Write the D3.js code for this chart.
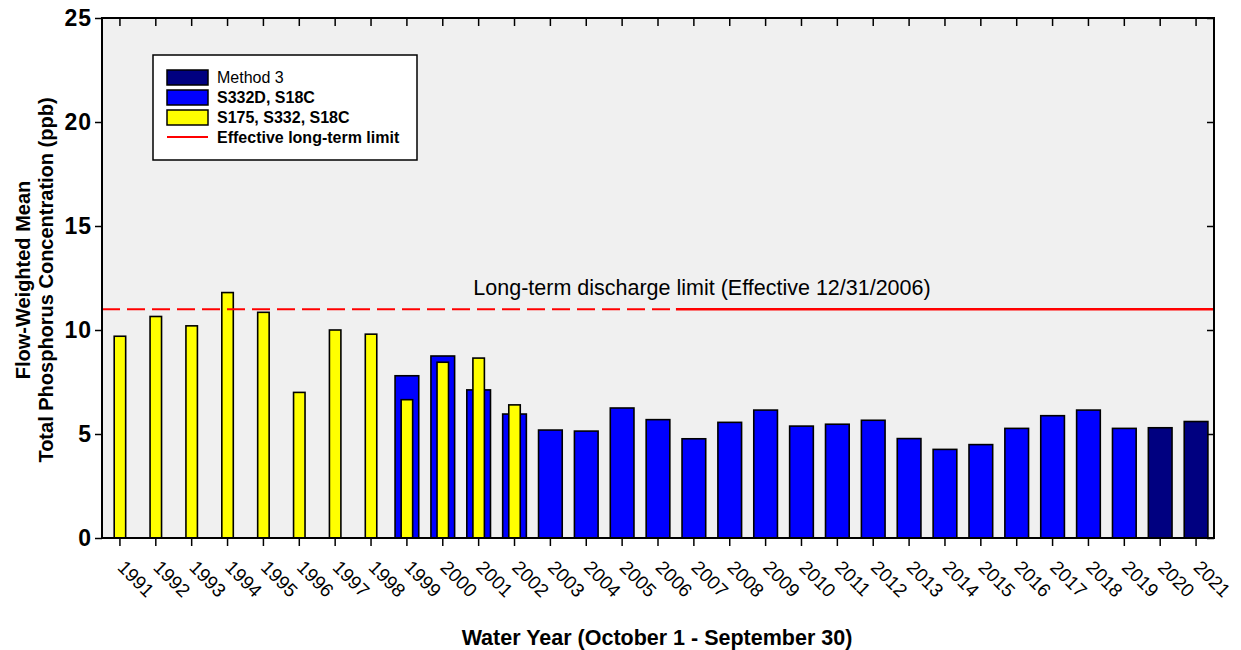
<!DOCTYPE html>
<html lang="en">

<head>
    <meta charset="UTF-8">
    <title>Flow-Weighted Mean TP Concentration</title>
    <script src="https://cdn.jsdelivr.net/npm/d3@7"></script>
    <style>
        body { margin: 0; background: #fff; }
        text { font-family: 'Liberation Sans', Arial, sans-serif; }
    </style>
</head>

<body>
    <script>
        // data
        const years = d3.range(1991, 2022).map(String);

        const s175Years = ['1991', '1992', '1993', '1994', '1995', '1996', '1997', '1998', '1999', '2000', '2001', '2002'];
        const s175Values = [9.7, 10.65, 10.2, 11.8, 10.85, 7.0, 10.0, 9.8, 6.65, 8.45, 8.65, 6.4];

        const s332dYears = ['1999', '2000', '2001', '2002', '2003', '2004', '2005', '2006', '2007', '2008', '2009',
            '2010', '2011', '2012', '2013', '2014', '2015', '2016', '2017', '2018', '2019'];
        const s332dValues = [7.8, 8.75, 7.12, 5.96, 5.19, 5.14, 6.25, 5.69, 4.77, 5.56, 6.15,
            5.38, 5.47, 5.66, 4.78, 4.26, 4.49, 5.27, 5.88, 6.15, 5.27];

        const method3Years = ['2020', '2021'];
        const method3Values = [5.3, 5.6];

        const yTicks = [0, 5, 10, 15, 20, 25];
        const limitValue = 11;
        const limitStartYear = '2007';

        const legendItems = ['Method 3', 'S332D, S18C', 'S175, S332, S18C', 'Effective long-term limit'];
        const colors = {
            'Method 3': '#000080',
            'S332D, S18C': '#0000ff',
            'S175, S332, S18C': '#ffff00',
            'Effective long-term limit': '#ff0000'
        };

        const W = 1241, H = 650;
        const plot = { left: 102, right: 1214, top: 18, bottom: 538 };

        const svg = d3.select('body').append('svg')
            .attr('width', W)
            .attr('height', H);

        const xScale = d3.scaleBand()
            .domain(years)
            .range([plot.left, plot.right]);

        const yScale = d3.scaleLinear()
            .domain([0, 25])
            .range([plot.bottom, plot.top]);

        // plot background
        svg.append('rect')
            .attr('x', plot.left)
            .attr('y', plot.top)
            .attr('width', plot.right - plot.left)
            .attr('height', plot.bottom - plot.top)
            .attr('fill', '#f0f0f0');

        const wide = xScale.bandwidth() * 0.66;
        const narrow = xScale.bandwidth() * 0.32;

        function drawBars(yrs, vals, color, w) {
            svg.append('g')
                .selectAll('rect')
                .data(yrs.map((y, i) => ({ year: y, value: vals[i] })))
                .enter()
                .append('rect')
                .attr('x', d => xScale(d.year) + (xScale.bandwidth() - w) / 2)
                .attr('y', d => yScale(d.value))
                .attr('width', w)
                .attr('height', d => yScale(0) - yScale(d.value))
                .attr('fill', color)
                .attr('stroke', '#000')
                .attr('stroke-width', 1.6);
        }

        drawBars(s332dYears, s332dValues, colors['S332D, S18C'], wide);
        drawBars(method3Years, method3Values, colors['Method 3'], wide);
        drawBars(s175Years, s175Values, colors['S175, S332, S18C'], narrow);

        // long-term limit: dashed before it took effect, solid after
        const xStart = xScale(limitStartYear);
        svg.append('line')
            .attr('x1', plot.left).attr('x2', xStart)
            .attr('y1', yScale(limitValue)).attr('y2', yScale(limitValue))
            .attr('stroke', '#ff0000')
            .attr('stroke-width', 2)
            .attr('stroke-dasharray', '18,7');
        svg.append('line')
            .attr('x1', xStart).attr('x2', plot.right)
            .attr('y1', yScale(limitValue)).attr('y2', yScale(limitValue))
            .attr('stroke', '#ff0000')
            .attr('stroke-width', 2.5);

        svg.append('text')
            .attr('x', 702)
            .attr('y', yScale(limitValue) - 14)
            .attr('text-anchor', 'middle')
            .style('font-size', '21.5px')
            .text('Long-term discharge limit (Effective 12/31/2006)');

        // axes
        const xAxis = svg.append('g')
            .attr('transform', `translate(0, ${plot.bottom})`)
            .call(d3.axisBottom(xScale).tickSize(8).tickSizeOuter(0));
        xAxis.select('.domain').remove();
        xAxis.selectAll('line').attr('stroke-width', 1.5);
        xAxis.selectAll('text')
            .attr('text-anchor', 'start')
            .attr('transform', 'translate(6, 21) rotate(45)')
            .attr('dy', '0.71em')
            .attr('x', 0)
            .attr('y', 0)
            .style('font-size', '19px')
            .attr('fill', '#000');

        const xTop = svg.append('g')
            .attr('transform', `translate(0, ${plot.top})`)
            .call(d3.axisTop(xScale).tickSize(-8).tickSizeOuter(0).tickFormat(''));
        xTop.select('.domain').remove();
        xTop.selectAll('line').attr('stroke-width', 1.5);

        const yAxis = svg.append('g')
            .attr('transform', `translate(${plot.left}, 0)`)
            .call(d3.axisLeft(yScale).tickValues(yTicks).tickSize(7).tickSizeOuter(0).tickPadding(3));
        yAxis.select('.domain').remove();
        yAxis.selectAll('line').attr('stroke-width', 1.5);
        yAxis.selectAll('text')
            .style('font-size', '23px')
            .style('font-weight', 'bold')
            .style('letter-spacing', '1px')
            .attr('fill', '#000');

        const yRight = svg.append('g')
            .attr('transform', `translate(${plot.right}, 0)`)
            .call(d3.axisRight(yScale).tickValues(yTicks).tickSize(-7).tickSizeOuter(0).tickFormat(''));
        yRight.select('.domain').remove();
        yRight.selectAll('line').attr('stroke-width', 1.5);

        // frame
        svg.append('rect')
            .attr('x', plot.left)
            .attr('y', plot.top)
            .attr('width', plot.right - plot.left)
            .attr('height', plot.bottom - plot.top)
            .attr('fill', 'none')
            .attr('stroke', '#000')
            .attr('stroke-width', 2);

        // axis titles
        svg.append('text')
            .attr('x', 657)
            .attr('y', 645)
            .attr('text-anchor', 'middle')
            .style('font-size', '21.5px')
            .style('font-weight', 'bold')
            .text('Water Year (October 1 - September 30)');

        svg.append('text')
            .attr('transform', 'translate(30, 280) rotate(-90)')
            .attr('text-anchor', 'middle')
            .style('font-size', '20px')
            .style('font-weight', 'bold')
            .text('Flow-Weighted Mean');

        svg.append('text')
            .attr('transform', 'translate(53, 280) rotate(-90)')
            .attr('text-anchor', 'middle')
            .style('font-size', '20px')
            .style('font-weight', 'bold')
            .text('Total Phosphorus Concentration (ppb)');

        // legend
        const legendContainer = svg.append('g')
            .attr('transform', 'translate(153, 55)');

        legendContainer.append('rect')
            .attr('width', 264)
            .attr('height', 105)
            .attr('fill', '#fff')
            .attr('stroke', '#000')
            .attr('stroke-width', 1.5);

        const legend = legendContainer.selectAll('.legend-item')
            .data(legendItems)
            .enter().append('g')
            .attr('class', 'legend-item')
            .attr('transform', (d, i) => `translate(14, ${15 + i * 20})`);

        legend.filter((d, i) => i < 3).append('rect')
            .attr('width', 41)
            .attr('height', 15)
            .attr('fill', d => colors[d])
            .attr('stroke', '#000')
            .attr('stroke-width', 1.5);

        legend.filter((d, i) => i === 3).append('line')
            .attr('x1', 0).attr('x2', 41)
            .attr('y1', 7).attr('y2', 7)
            .attr('stroke', d => colors[d])
            .attr('stroke-width', 2);

        legend.append('text')
            .attr('x', 50)
            .attr('y', 13)
            .style('font-size', '16px')
            .style('font-weight', (d, i) => i === 0 ? 'normal' : 'bold')
            .text(d => d);
    </script>
</body>

</html>
